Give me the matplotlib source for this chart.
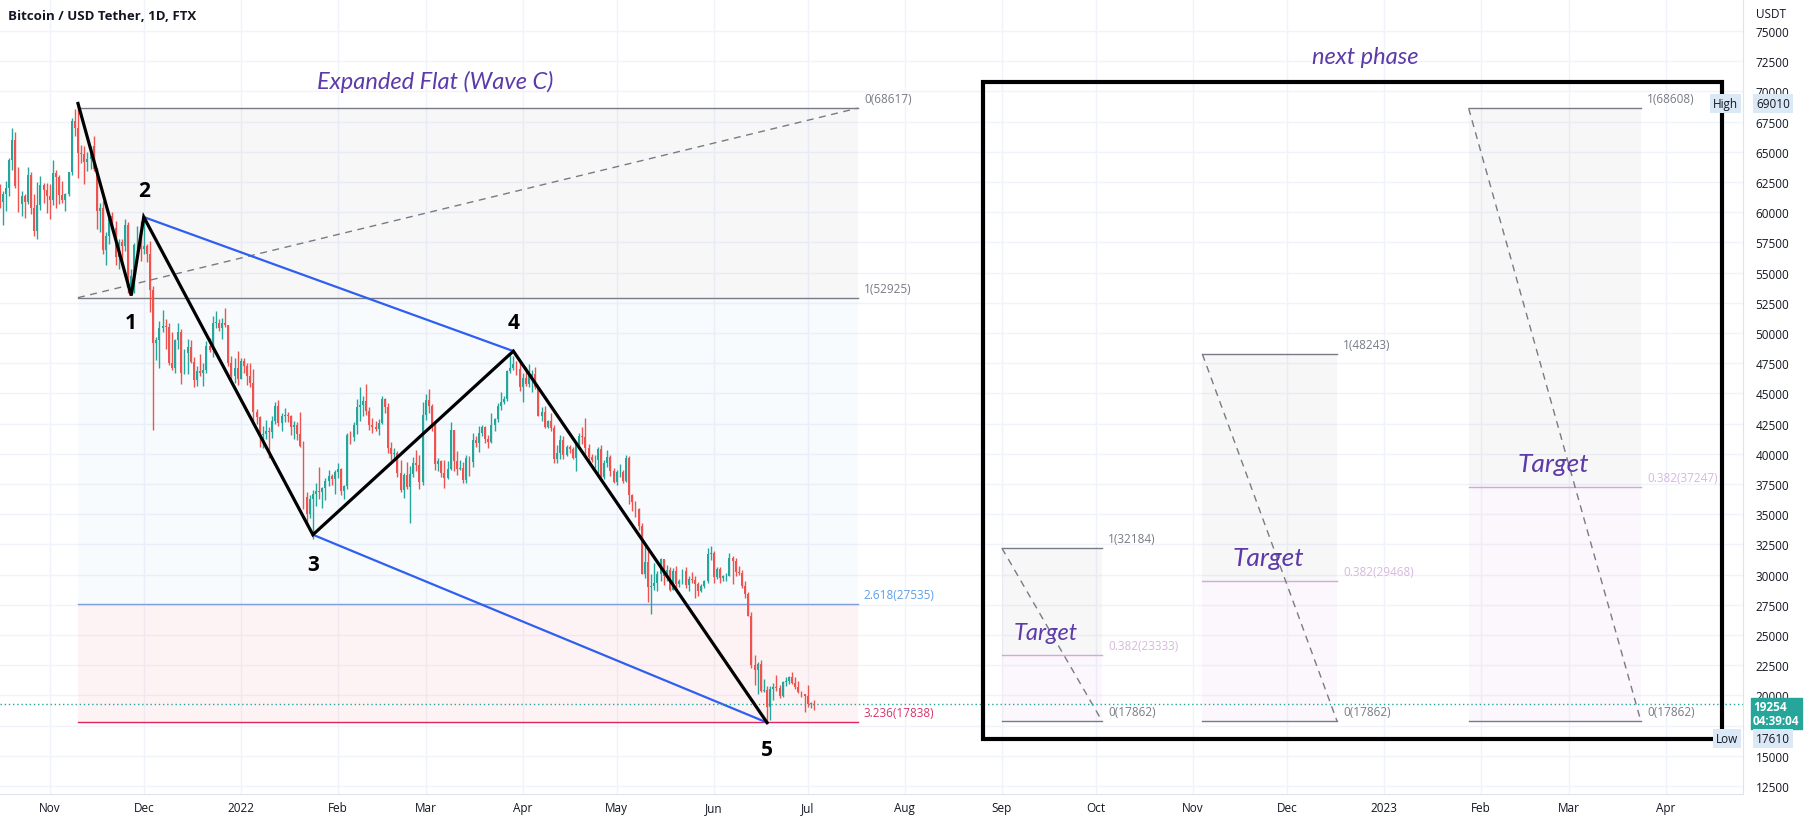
import matplotlib
matplotlib.use('Agg')
import matplotlib.pyplot as plt
import matplotlib.dates as mdates
from matplotlib.patches import Rectangle
import pandas as pd

plt.rcParams['font.family'] = ['Open Sans', 'DejaVu Sans']

# daily candles from 2021-10-16, open = previous close
first_open = 61570
closes = [
    60860, 61530, 62030, 64280, 66000, 62210, 60690, 61300, 60850, 63080, 60330, 58450, 60590, 62250, 61850, 61300,
    61000, 63230, 62930, 61400, 61000, 61530, 63300, 67550, 66950, 64880, 64810, 64150, 64380, 65500, 63610, 60060,
    60350, 56890, 58050, 59720, 58680, 56280, 57570, 57180, 58950, 53730, 54720, 57270, 57790, 56950,
    57230, 56510, 53600, 49150, 49400, 50440, 50590, 50470, 47540, 47140, 49390, 50050, 46700, 48340, 48860, 47630,
    46130, 46830, 46680, 46910, 48900, 48590, 50820, 50820, 50400, 50800, 50700, 47540, 46460, 47120, 46210,
    47720, 47300, 46440, 45830, 43430, 43080, 41550, 41680, 41860, 41820, 42740, 43920, 42590, 43100, 43180, 43110,
    42250, 42370, 41660, 40680, 36450, 35030, 36280, 36650, 36960, 36810, 37160, 37710, 38170, 37920, 38470,
    38740, 36900, 37330, 41570, 41380, 42410, 43840, 44040, 44370, 43510, 42390, 42200, 42050, 42540, 44570, 43870,
    40520, 40000, 40090, 38380, 37010, 38270, 37250, 38330, 39210, 39110, 37700, 43190,
    44420, 43920, 42450, 39140, 39400, 38420, 37990, 38730, 41940, 39420, 38730, 38810, 37790, 39670, 39280, 41110,
    40920, 41760, 42200, 41260, 41000, 42360, 42890, 43960, 44310, 44510, 46820, 47130, 47430, 47060, 45510,
    46280, 45810, 46410, 46580, 45500, 43170, 43440, 42250, 42750, 42160, 39530, 40070, 41150, 39940, 40550, 40380,
    39680, 40800, 41500, 41360, 40480, 39710, 39450, 39450, 40430, 38110, 39240, 39740, 38600, 37640,
    38470, 38520, 37720, 39690, 36550, 36010, 35470, 34040, 30080, 31010, 28940, 29030, 29280, 30080, 31300, 29860,
    30420, 28690, 30320, 29200, 29430, 30290, 29100, 29650, 29540, 29200, 28620, 29020, 29440, 31720, 31790,
    29800, 30450, 29700, 29860, 29910, 31370, 31130, 30200, 30110, 29080, 28420, 26570, 22490, 22130, 22580, 20380,
    20450, 19000, 20550, 20710, 20580, 19970, 21100, 21230, 21500, 21030, 20730, 20250, 20100, 19930,
    19290, 19300, 19254,
]
highs = [
    62330, 61720, 62600, 64490, 67000, 66640, 63730, 61740, 61490, 63710, 63290, 61500, 62500, 62960, 62400, 62430,
    62300, 64280, 63500, 63120, 62600, 61590, 63300, 67790, 68530, 69000, 65600, 65450, 64950, 65500, 66300, 63630,
    60800, 60950, 58350, 59850, 60000, 59300, 57800, 57770, 59400, 59200, 55300, 57420, 58860, 59250,
    59420, 57400, 57600, 53900, 49700, 51000, 51930, 51180, 50800, 50050, 49490, 50800, 50350, 48680, 49500, 49450,
    48000, 47300, 48300, 47500, 49300, 49550, 51380, 51860, 51150, 51250, 52050, 50700, 48100, 47900, 48550,
    47900, 47950, 47550, 47500, 47050, 43750, 43150, 42300, 42800, 42250, 43100, 44300, 44450, 43400, 43800, 43500,
    43200, 42700, 42600, 43500, 41100, 36850, 36550, 37000, 37550, 38900, 37250, 38000, 38700, 38350, 38700,
    39250, 38850, 37400, 41700, 41900, 42600, 44500, 45500, 44800, 45800, 43900, 43000, 42750, 42850, 44750, 44600,
    44200, 40950, 40500, 40200, 39500, 38400, 39300, 39000, 39700, 40300, 39900, 44250,
    44950, 45400, 44100, 42550, 39650, 39450, 39500, 39400, 42600, 41950, 40250, 39450, 39300, 39900, 39850, 41700,
    41450, 42300, 42400, 42300, 41550, 43350, 43000, 44200, 45100, 44800, 46900, 48190, 48100, 47700, 47600,
    46700, 47200, 47450, 46900, 47200, 45500, 43900, 43950, 42800, 43400, 42400, 40700, 41550, 41500, 40700, 40700,
    40600, 40950, 41750, 42200, 42950, 40800, 39950, 39900, 40600, 40750, 39450, 40350, 39900, 38800,
    38650, 39150, 38650, 39900, 39800, 36650, 36100, 35500, 34250, 32650, 32150, 30050, 30950, 30300, 31400, 31300,
    30800, 30650, 30550, 30750, 29600, 30450, 30650, 29850, 30200, 29850, 29350, 29200, 29550, 32200, 32400,
    31950, 30650, 30650, 29950, 30150, 31750, 31550, 31350, 30700, 30350, 29450, 28550, 26900, 23350, 22750, 22950,
    21350, 20750, 20800, 21000, 21700, 20850, 21200, 21550, 21600, 21900, 21500, 21200, 20400, 20150,
    20850, 19450, 19650,
]
lows = [
    60310, 58960, 60130, 61320, 63480, 62000, 60000, 59660, 59520, 60670, 59820, 58000, 57820, 60170, 60760, 59970,
    59440, 60620, 60380, 60700, 60730, 60130, 61330, 63100, 66330, 62820, 64100, 62300, 63370, 63600, 63370, 58600,
    58380, 56500, 55600, 57400, 58500, 55650, 55300, 55900, 56800, 53300, 53650, 53350, 56700, 56000,
    56500, 55850, 51700, 42000, 47800, 47100, 50050, 48650, 47350, 46900, 46700, 48700, 45800, 46600, 46600, 47550,
    45500, 45600, 46450, 45580, 46650, 48450, 48050, 50450, 50200, 49500, 50500, 47300, 46100, 45900, 45700,
    46200, 46650, 45700, 45500, 42500, 42450, 40600, 40500, 41200, 39650, 41300, 42450, 42300, 41850, 42600, 42600,
    41550, 41250, 41150, 40550, 35450, 34000, 34650, 32950, 35700, 36250, 35500, 36200, 37350, 37400, 36650,
    38000, 36600, 36250, 37050, 40850, 41100, 41650, 42700, 43100, 43200, 42000, 41750, 41900, 41550, 42450, 43350,
    40100, 39500, 39650, 38050, 36800, 36350, 37050, 34300, 38050, 38600, 37100, 37450,
    42800, 43350, 41850, 38650, 38600, 38100, 37200, 37900, 38650, 38550, 38250, 38650, 37600, 37600, 38200, 38900,
    40550, 40150, 41500, 40900, 40500, 40900, 41850, 42600, 43600, 44100, 44400, 46650, 46950, 46550, 45200,
    44250, 45650, 45550, 45150, 45400, 43100, 42750, 42150, 42150, 41900, 39200, 39250, 39550, 39550, 39800, 40050,
    39550, 38550, 40550, 40850, 39800, 39200, 39300, 38850, 38250, 37800, 37900, 38900, 38200, 37600,
    37400, 38050, 37550, 37650, 35850, 35250, 34800, 33700, 30050, 29750, 27700, 26700, 28750, 28650, 29450, 29100,
    29450, 28650, 28700, 28750, 28950, 29250, 28900, 28650, 29300, 28050, 28250, 28550, 28850, 29300, 31200,
    29300, 29600, 29300, 29450, 29500, 29900, 29250, 29850, 29950, 28850, 28100, 26550, 22300, 20850, 20100, 20250,
    20250, 17620, 18000, 19650, 20350, 19800, 19900, 20750, 20950, 20950, 20500, 20200, 19850, 18650,
    19000, 18950, 18800,
]

# elliott wave pivots (0..5)
wave_dates = ['2021-11-10', '2021-11-27', '2021-12-01', '2022-01-24', '2022-03-29', '2022-06-18']
wave_prices = [69000, 53100, 59600, 33300, 48500, 17750]
wave_labels = ['', '1', '2', '3', '4', '5']

# fib extension on the left
fib_main_dates = ['2021-11-10', '2022-07-17']
fib_main_levels = ['0', '1', '2.618', '3.236']
fib_main_prices = [68617, 52925, 27535, 17838]

# three target retracements in the "next phase" box
fib_box_levels = ['1', '0.382', '0']
fib_a_dates = ['2022-09-01', '2022-10-03']
fib_a_prices = [32184, 23333, 17862]
fib_b_dates = ['2022-11-04', '2022-12-17']
fib_b_prices = [48243, 29468, 17862]
fib_c_dates = ['2023-01-28', '2023-03-24']
fib_c_prices = [68608, 37247, 17862]

last_price = 19254
high_price = 69010
low_price = 17610

# 17500 sits under the Low badge, so it is not labelled
price_ticks = [12500, 15000] + list(range(20000, 77500, 2500))
month_ticks = pd.date_range('2021-11-01', '2023-04-01', freq='MS')
month_labels = ['Nov', 'Dec', '2022', 'Feb', 'Mar', 'Apr', 'May', 'Jun', 'Jul', 'Aug',
                'Sep', 'Oct', 'Nov', 'Dec', '2023', 'Feb', 'Mar', 'Apr']

UP = '#26a69a'
DOWN = '#ef5350'
GRAY = '#787b86'
PURPLE = '#5c3aa8'

fig = plt.figure(figsize=(18.14, 8.2), dpi=100)
ax = fig.add_axes([0, 25 / 820, 1743 / 1814, 795 / 820])

jan1 = mdates.date2num(pd.Timestamp('2022-01-01'))
ax.set_xlim(jan1 - 76.9, jan1 + 479.6)
ax.set_ylim(11838, 77649)

# grid
for m in month_ticks:
    ax.axvline(m, color='#f0f3fa', lw=1, zorder=0)
for p in range(12500, 77500, 2500):
    ax.axhline(p, color='#f0f3fa', lw=1, zorder=0)

t = lambda s: mdates.date2num(pd.Timestamp(s))


def draw_fib(d0, d1, levels, prices, line_cols, label_cols, fill_cols, trend):
    x0, x1 = t(d0), t(d1)
    for i in range(len(prices) - 1):
        ax.fill_between([x0, x1], prices[i], prices[i + 1], color=fill_cols[i][0],
                        alpha=fill_cols[i][1], lw=0, zorder=1)
    for lv, p, lc, tc in zip(levels, prices, line_cols, label_cols):
        ax.plot([x0, x1], [p, p], color=lc, lw=1, zorder=2)
        ax.annotate(f'{lv}({p})', (x1, p), xytext=(6, 3), textcoords='offset pixels',
                    ha='left', va='bottom', fontsize=8.5, color=tc, zorder=2)
    ax.plot([x0, x1], trend, color=GRAY, lw=1, ls=(0, (5, 4)), zorder=2)


draw_fib(fib_main_dates[0], fib_main_dates[1], fib_main_levels, fib_main_prices,
         [GRAY, GRAY, '#7f9fd4', '#e0245e'],
         [GRAY, GRAY, '#5e9ee6', '#d6336c'],
         [('#787b86', 0.06), ('#2196f3', 0.035), ('#f23645', 0.06)],
         [fib_main_prices[1], fib_main_prices[0]])

for ds, ps in [(fib_a_dates, fib_a_prices), (fib_b_dates, fib_b_prices), (fib_c_dates, fib_c_prices)]:
    draw_fib(ds[0], ds[1], fib_box_levels, ps,
             [GRAY, '#d3a6dc', GRAY],
             [GRAY, '#d7b8de', GRAY],
             [('#787b86', 0.06), ('#e1bee7', 0.12)],
             [ps[0], ps[2]])

# candles
dates = pd.date_range('2021-10-16', periods=len(closes), freq='D')
opens = [first_open] + closes[:-1]
colors = [UP if c >= o else DOWN for o, c in zip(opens, closes)]
bottoms = [min(o, c) for o, c in zip(opens, closes)]
heights = [max(abs(c - o), 60) for o, c in zip(opens, closes)]
ax.vlines(dates, lows, highs, colors=colors, lw=1, zorder=3)
ax.bar(dates, heights, bottom=bottoms, width=0.62, color=colors, lw=0, zorder=3)

# wave channel + waves
wx = [t(d) for d in wave_dates]
ax.plot([wx[2], wx[4]], [wave_prices[2], wave_prices[4]], color='#2f5ff0', lw=1.6, zorder=4)
ax.plot([wx[3], wx[5]], [wave_prices[3], wave_prices[5]], color='#2f5ff0', lw=1.6, zorder=4)
ax.plot(wx, wave_prices, color='black', lw=2.3, zorder=5, solid_joinstyle='miter')
offsets = [0, -27, 27, -30, 29, -27]
for x, p, lab, off in zip(wx, wave_prices, wave_labels, offsets):
    if lab:
        ax.annotate(lab, (x, p), xytext=(0, off), textcoords='offset pixels', ha='center',
                    va='center', fontsize=15, fontweight='bold', color='black', zorder=6)

# current price line
ax.axhline(last_price, color=UP, lw=1, ls=(0, (1, 2)), zorder=4)

# next phase box
box = Rectangle((t('2022-08-26'), 16391), t('2023-04-19') - t('2022-08-26'), 70778 - 16391,
                fill=False, ec='black', lw=3, zorder=6)
ax.add_patch(box)

italic = dict(style='italic', color=PURPLE, family=['Lato', 'DejaVu Sans'], ha='center', va='center')
ax.text(t('2022-03-04'), 70861, 'Expanded Flat (Wave C)', fontsize=17, **italic)
ax.text(t('2022-12-26'), 72930, 'next phase', fontsize=17, **italic)
ax.text(t('2022-09-15'), 25166, 'Target', fontsize=17, zorder=7, **italic)
ax.text(t('2022-11-25'), 31457, 'Target', fontsize=19, zorder=7, **italic)
ax.text(t('2023-02-24'), 39238, 'Target', fontsize=19, zorder=7, **italic)

# axes styling
for s in ['top', 'left']:
    ax.spines[s].set_visible(False)
ax.spines['right'].set_color('#e0e3eb')
ax.spines['bottom'].set_color('#e0e3eb')
ax.yaxis.tick_right()
ax.set_yticks(price_ticks)
ax.tick_params(axis='y', length=0, pad=9, labelsize=8.5, labelcolor='#131722')
ax.set_xticks(month_ticks)
ax.set_xticklabels(month_labels)
ax.tick_params(axis='x', length=0, pad=5, labelsize=8.5, labelcolor='#131722')

# price scale badges
ax.annotate(f'{last_price}\n04:39:04', (1.0, last_price), xycoords=('axes fraction', 'data'),
            xytext=(10, -9), textcoords='offset pixels', ha='left', va='center', fontsize=8.5,
            color='white', fontweight='bold', linespacing=1.05, annotation_clip=False, zorder=10,
            bbox=dict(boxstyle='square,pad=0.2', fc=UP, ec=UP))
badge = dict(boxstyle='square,pad=0.25', fc='#dbe8f6', ec='none')
ax.annotate(f'{high_price}', (1.0, high_price), xycoords=('axes fraction', 'data'),
            xytext=(13, 0), textcoords='offset pixels', ha='left', va='center', fontsize=8.5,
            color='#131722', annotation_clip=False, zorder=10, bbox=badge)
ax.annotate('High', (1.0, high_price), xycoords=('axes fraction', 'data'),
            xytext=(-5, 0), textcoords='offset pixels', ha='right', va='center', fontsize=8.5,
            color='#131722', annotation_clip=False, zorder=10, bbox=badge)
ax.annotate(f'{low_price}', (1.0, low_price), xycoords=('axes fraction', 'data'),
            xytext=(13, -14), textcoords='offset pixels', ha='left', va='center', fontsize=8.5,
            color='#131722', annotation_clip=False, zorder=10, bbox=badge)
ax.annotate('Low', (1.0, low_price), xycoords=('axes fraction', 'data'),
            xytext=(-5, -14), textcoords='offset pixels', ha='right', va='center', fontsize=8.5,
            color='#131722', annotation_clip=False, zorder=10, bbox=badge)

fig.text(1756 / 1814, 1 - 14 / 820, 'USDT', fontsize=8.5, color='#131722', va='center')
fig.text(8 / 1814, 1 - 16 / 820, 'Bitcoin / USD Tether, 1D, FTX', fontsize=9.5,
         fontweight='bold', color='#131722', va='center')

fig.savefig('out.png', dpi=100, facecolor='white')
